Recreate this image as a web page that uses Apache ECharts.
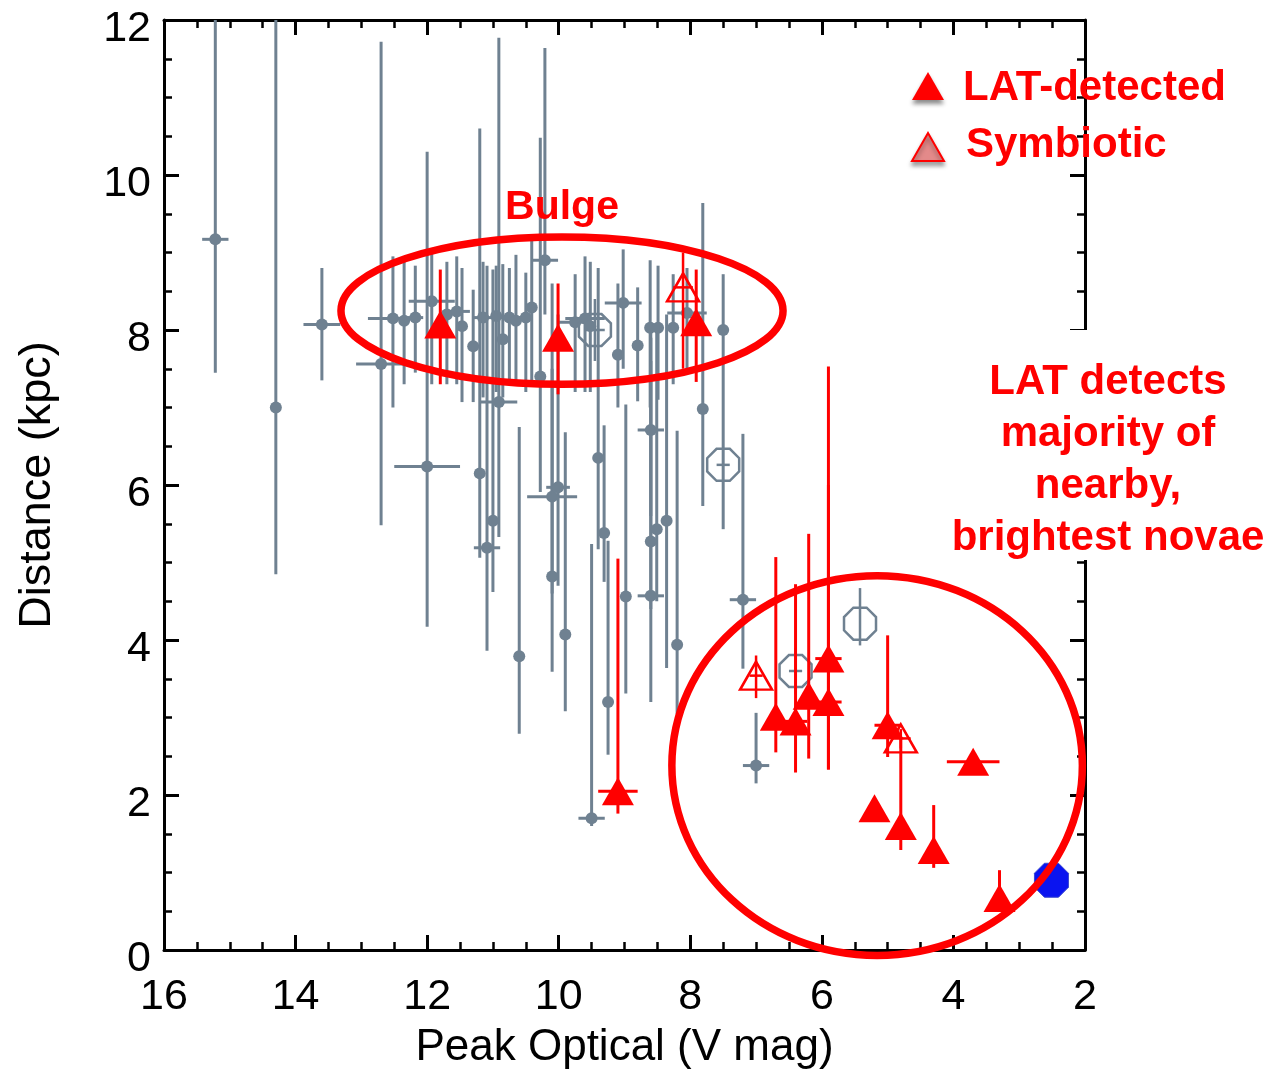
<!DOCTYPE html>
<html><head><meta charset="utf-8">
<script src="https://cdn.jsdelivr.net/npm/echarts@6/dist/echarts.min.js"></script>
<style>html,body{margin:0;padding:0;background:#fff}#c{width:1287px;height:1075px}</style>
</head><body><div id="c"></div>
<script>
// ---------- DATA ----------
// Gray (other novae): peak V mag, distance (kpc), distance low/high, mag half-error
const grayMag  = [15.22,14.30,13.60,12.70,12.52,12.35,12.18,12.00,11.93,11.70,11.55,11.47,11.30,11.20,11.09,11.00,10.91,11.15,10.95,10.85,10.75,10.65,10.60,10.50,10.41,10.28,10.21,10.10,10.10,10.01,9.90,9.75,9.60,9.52,9.50,9.40,9.31,9.25,9.02,9.10,8.98,8.80,8.61,8.60,8.60,8.60,8.51,8.49,8.36,8.26,8.20,8.05,7.81,7.50,7.20,7.00];
const grayDist = [9.17,7.00,8.07,7.56,8.15,8.12,8.16,6.24,8.37,8.20,8.24,8.05,7.79,6.15,5.19,5.54,7.07,8.16,8.18,7.88,8.16,8.12,3.79,8.16,8.29,7.40,8.90,4.82,5.85,5.97,4.07,8.10,8.15,8.05,1.70,6.35,5.38,3.20,8.35,7.68,4.56,7.80,8.03,6.71,5.27,4.57,5.43,8.03,5.54,8.03,3.94,8.22,6.98,8.00,4.52,2.38];
const grayLo   = [7.45,4.85,7.35,5.48,7.00,7.30,7.45,4.17,7.30,7.30,7.30,7.07,7.07,5.06,3.86,4.62,5.33,7.13,7.20,7.13,7.30,7.30,2.79,7.20,7.30,5.91,8.20,3.59,4.60,4.70,3.08,7.20,7.20,7.20,1.60,5.17,4.75,2.52,7.50,7.00,3.31,7.08,7.00,5.60,4.40,3.20,4.50,7.10,3.64,7.30,3.04,7.50,5.73,5.43,3.63,2.15];
const grayHi   = [12.5,12.5,8.80,11.72,8.95,8.88,8.83,10.30,9.00,8.88,8.95,8.80,8.52,10.60,8.83,8.78,11.77,8.88,8.83,8.85,8.80,8.97,6.75,8.74,9.15,10.48,11.64,7.50,8.60,8.20,6.68,8.72,8.95,8.88,5.24,8.80,6.77,5.28,9.04,8.60,7.04,8.55,8.90,8.10,7.90,7.60,8.00,8.83,8.20,8.72,6.70,8.80,9.64,8.72,6.66,3.06];
const grayXErr = [0.20,0,0.28,0.38,0.38,0,0.12,0.50,0.35,0,0.20,0,0,0,0.20,0,0.28,0.15,0,0,0.20,0,0,0,0,0,0.20,0,0.38,0.18,0,0.25,0.30,0,0.20,0,0,0,0.28,0,0,0,0,0.20,0,0.20,0,0,0,0,0,0.30,0,0,0.20,0.20];

// Gray open octagons
const octMag  = [9.45,7.50,6.40,5.42];
const octDist = [8.00,6.26,3.60,4.21];
const octLo   = [7.60,6.26,3.30,3.93];
const octHi   = [8.40,6.26,3.90,4.67];
const octXErr = [0.15,0.10,0.10,0];

// LAT-detected novae (filled red triangles)
const latMag  = [11.80,10.01,7.91,9.10,6.70,6.40,6.20,5.90,5.90,5.00,5.20,4.80,4.30,3.70,3.30];
const latDist = [8.07,7.90,8.10,2.05,3.01,2.95,3.28,3.76,3.20,2.90,1.83,1.60,1.29,2.43,0.67];
const latLo   = [7.30,7.17,7.33,1.76,2.55,2.29,2.47,2.33,2.33,2.49,1.75,1.29,1.06,2.40,0.62];
const latHi   = [8.78,8.60,8.78,5.05,5.07,4.72,5.37,7.53,6.00,4.06,1.90,2.75,1.87,2.46,1.03];
const latXErr = [0,0,0,0.30,0,0.18,0,0.20,0.20,0.20,0,0,0,0.40,0];

// Symbiotic (open red triangles)
const symMag  = [8.11,7.00,4.80];
const symDist = [8.55,3.54,2.73];
const symLo   = [7.50,3.25,2.60];
const symHi   = [9.00,3.80,2.85];
const symXErr = [0.15,0.10,0.15];

// Blue nova
const blueMag  = [2.51];
const blueDist = [0.90];

// Axis ranges / ticks
const magMin = 2, magMax = 16, magStep = 2;
const distMin = 0, distMax = 12, distStep = 2;

// Annotation ellipses (data units: centre and half-widths)
const bulgeEllipse = [9.95, 8.25, 3.36, 0.95];
const nearEllipse  = [5.16, 2.38, 3.12, 2.45];

// ---------- CHART ----------
const GRAY = '#6f8191', RED = '#ff0000', BLUE = '#0a14f0';
const FONT = '"Liberation Sans", Arial, Helvetica, sans-serif';
const rows = (m,d,lo,hi,xe) => m.map((v,i)=>[v,d[i],lo[i],hi[i],xe[i]]);
const pts = (m,d) => m.map((v,i)=>[v,d[i]]);
const OCT = 'path://M1.924,1.383L1.383,1.924L0.617,1.924L0.076,1.383L0.076,0.617L0.617,0.076L1.383,0.076L1.924,0.617Z';

function errRender(color, w){
  return function(params, api){
    const x=api.value(0), y=api.value(1), lo=api.value(2), hi=api.value(3), xe=api.value(4);
    const cl = v => Math.max(distMin, Math.min(distMax, v));
    const ch=[];
    if(hi>lo){
      const a=api.coord([x, cl(lo)]), b=api.coord([x, cl(hi)]);
      ch.push({type:'line', shape:{x1:a[0],y1:a[1],x2:b[0],y2:b[1]}, style:{stroke:color, lineWidth:w}});
    }
    if(xe>0){
      const a=api.coord([x-xe,y]), b=api.coord([x+xe,y]);
      ch.push({type:'line', shape:{x1:a[0],y1:a[1],x2:b[0],y2:b[1]}, style:{stroke:color, lineWidth:w}});
    }
    return {type:'group', children:ch};
  };
}
function errSeries(data, color, w, z){
  return {type:'custom', data, renderItem:errRender(color,w), encode:{x:0,y:1}, z, silent:true, animation:false};
}

const axisBase = {
  type:'value',
  axisLine:{show:true, onZero:false, lineStyle:{color:'#000', width:3}},
  axisTick:{show:true, inside:true, length:15, lineStyle:{color:'#000', width:3}},
  minorTick:{show:true, splitNumber:4, length:8, lineStyle:{color:'#000', width:2.5}},
  splitLine:{show:false}
};

const chart = echarts.init(document.getElementById('c'), null, {renderer:'canvas'});
const option = {
  animation:false,
  backgroundColor:'#fff',
  grid:{left:164, right:202, top:20, bottom:123},
  xAxis:[
    Object.assign({}, axisBase, {min:magMin, max:magMax, interval:magStep, inverse:true, position:'bottom',
      axisLabel:{show:true, color:'#000', fontSize:43, fontFamily:FONT, margin:26},
      name:'Peak Optical (V mag)', nameLocation:'middle', nameGap:76,
      nameTextStyle:{color:'#000', fontSize:44, fontFamily:FONT}}),
    Object.assign({}, axisBase, {min:magMin, max:magMax, interval:magStep, inverse:true, position:'top', axisLabel:{show:false}})
  ],
  yAxis:[
    Object.assign({}, axisBase, {min:distMin, max:distMax, interval:distStep, position:'left',
      axisLabel:{show:true, color:'#000', fontSize:43, fontFamily:FONT, margin:13, verticalAlign:'top', lineHeight:18},
      name:'Distance (kpc)', nameLocation:'middle', nameGap:104,
      nameTextStyle:{color:'#000', fontSize:45, fontFamily:FONT}}),
    Object.assign({}, axisBase, {min:distMin, max:distMax, interval:distStep, position:'right', axisLabel:{show:false}})
  ],
  series:[
    errSeries(rows(grayMag,grayDist,grayLo,grayHi,grayXErr), GRAY, 3, 2),
    errSeries(rows(octMag,octDist,octLo,octHi,octXErr), GRAY, 2.5, 2),
    {name:'gray', type:'scatter', data:pts(grayMag,grayDist), symbol:'circle', symbolSize:12,
     itemStyle:{color:GRAY, opacity:1}, z:3, silent:true},
    {name:'grayOct', type:'scatter', data:pts(octMag,octDist), symbol:OCT, symbolSize:32,
     itemStyle:{color:'rgba(0,0,0,0)', borderColor:GRAY, borderWidth:2.5, opacity:1}, z:3, silent:true},
    errSeries(rows(latMag,latDist,latLo,latHi,latXErr), RED, 3, 4),
    errSeries(rows(symMag,symDist,symLo,symHi,symXErr), RED, 2.5, 4),
    {name:'LAT-detected', type:'scatter', data:pts(latMag,latDist), symbol:'triangle', symbolSize:[32,28],
     itemStyle:{color:RED, opacity:1}, z:5, silent:true},
    {name:'Symbiotic', type:'scatter', data:pts(symMag,symDist), symbol:'triangle', symbolSize:[32,28],
     itemStyle:{color:'rgba(0,0,0,0)', borderColor:RED, borderWidth:2.5, opacity:1}, z:5, silent:true},
    {name:'blue', type:'scatter', data:pts(blueMag,blueDist), symbol:OCT, symbolSize:34,
     itemStyle:{color:BLUE, borderColor:'#3a48d0', borderWidth:1, opacity:1}, z:5, silent:true}
  ]
};
chart.setOption(option);

function ell(e){
  const c = chart.convertToPixel({xAxisIndex:0, yAxisIndex:0}, [e[0], e[1]]);
  const px = chart.convertToPixel({xAxisIndex:0, yAxisIndex:0}, [e[0]-e[2], e[1]+e[3]]);
  return {type:'ellipse', shape:{cx:c[0], cy:c[1], rx:Math.abs(px[0]-c[0]), ry:Math.abs(c[1]-px[1])},
    style:{fill:'none', stroke:RED, lineWidth:7.5}, z:90, silent:true};
}
const bold = 'bold 42px ' + FONT;
chart.setOption({graphic:[
  ell(bulgeEllipse), ell(nearEllipse),
  {type:'rect', shape:{x:945, y:330, width:342, height:230}, style:{fill:'#fff'}, z:95, silent:true},
  {type:'text', x:1108, y:356, z:100, silent:true,
   style:{text:'LAT detects\nmajority of\nnearby,\nbrightest novae', font:bold, fill:RED, align:'center', verticalAlign:'top', lineHeight:52}},
  {type:'text', x:562, y:208, z:100, silent:true,
   style:{text:'Bulge', font:'bold 41px ' + FONT, fill:RED, align:'center', verticalAlign:'middle'}},
  {type:'polygon', shape:{points:[[928,72],[944,100],[912,100]]}, z:100, silent:true,
   style:{fill:RED, shadowBlur:4, shadowColor:'rgba(0,0,0,0.45)', shadowOffsetY:4}},
  {type:'text', x:963, y:88, z:100, silent:true,
   style:{text:'LAT-detected', font:bold, fill:RED, align:'left', verticalAlign:'middle'}},
  {type:'polygon', shape:{points:[[928,133],[944,161],[912,161]]}, z:100, silent:true,
   style:{fill:'#e38a8a', stroke:RED, lineWidth:2, shadowBlur:4, shadowColor:'rgba(0,0,0,0.35)', shadowOffsetY:4}},
  {type:'text', x:966, y:145, z:100, silent:true,
   style:{text:'Symbiotic', font:bold, fill:RED, align:'left', verticalAlign:'middle'}}
]});
</script>
</body></html>
